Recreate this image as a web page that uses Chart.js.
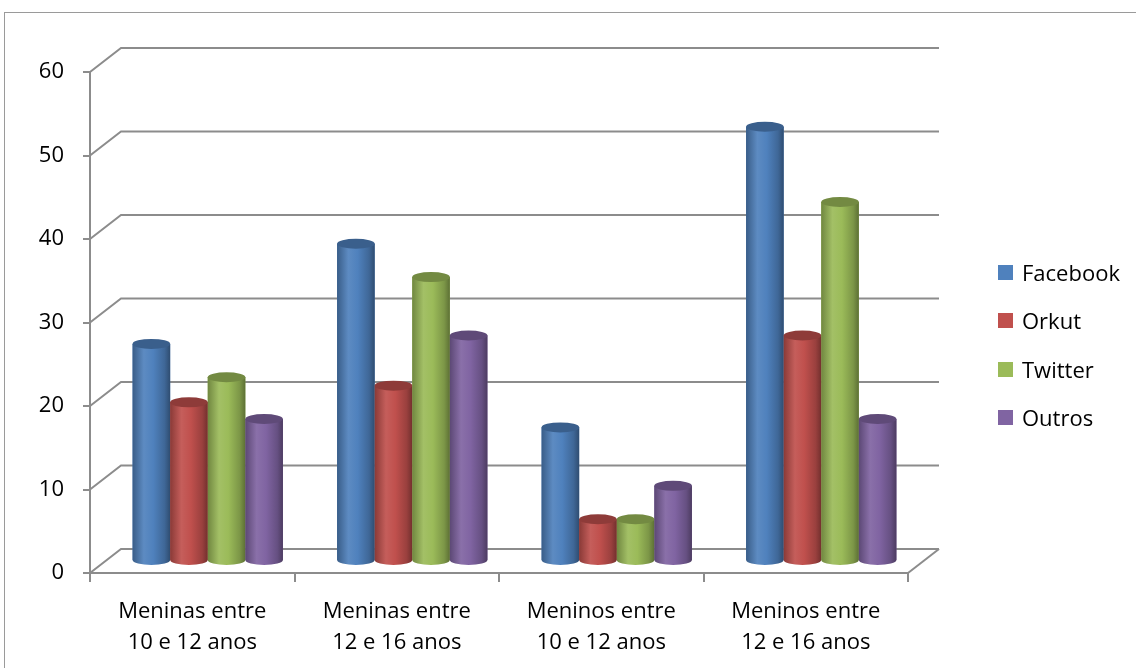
<!DOCTYPE html>
<html>
<head>
<meta charset="utf-8">
<script src="https://cdn.jsdelivr.net/npm/chart.js@4"></script>
<style>
    body { margin: 0; background: #fff; }
    #wrap { position: relative; width: 1136px; height: 668px; }
    #legend { position: absolute; left: 998px; top: 258px; font-family: "Open Sans", "Liberation Sans", sans-serif; font-size: 22px; color: #000; }
    .item { height: 48.3px; display: flex; align-items: flex-start; }
    .box { width: 15px; height: 15px; margin-top: 7px; margin-right: 9px; }
    .txt { line-height: 28px; }
</style>
</head>
<body>
<div id="wrap">
    <canvas id="chart" width="1136" height="668"></canvas>
    <div id="legend"></div>
</div>
<script>

// ============================
// DATA
// ============================

const categories = [
    ["Meninas entre", "10 e 12 anos"],
    ["Meninas entre", "12 e 16 anos"],
    ["Meninos entre", "10 e 12 anos"],
    ["Meninos entre", "12 e 16 anos"]
];

const seriesNames = ["Facebook", "Orkut", "Twitter", "Outros"];

const facebook = [26, 38, 16, 52];
const orkut = [19, 21, 5, 27];
const twitter = [22, 34, 5, 43];
const outros = [17, 27, 9, 17];

const yTicks = [0, 10, 20, 30, 40, 50, 60];

const colors = ["#4F81BD", "#C0504D", "#9BBB59", "#8064A2"];

// 3D look offsets
const depthX = 31;
const depthY = -24;
const gridColor = "#8c8c8c";
const fontFamily = "'Open Sans', 'Liberation Sans', sans-serif";

function shade(hex, f) {
    const n = parseInt(hex.slice(1), 16);
    let r = (n >> 16) & 255, g = (n >> 8) & 255, b = n & 255;
    const c = v => Math.max(0, Math.min(255, Math.round(f >= 1 ? v + (255 - v) * (f - 1) : v * f)));
    return "rgb(" + c(r) + "," + c(g) + "," + c(b) + ")";
}

// ============================
// PLUGINS
// ============================

const frame = {
    id: "frame",
    beforeDraw(chart) {
        const ctx = chart.ctx;
        ctx.save();
        ctx.strokeStyle = "#9a9a9a";
        ctx.lineWidth = 1;
        ctx.strokeRect(4.5, 12.5, 1200, 700);
        ctx.restore();
    }
};

const backWall = {
    id: "backWall",
    beforeDatasetsDraw(chart) {
        const ctx = chart.ctx;
        const area = chart.chartArea;
        const y = chart.scales.y;

        ctx.save();
        ctx.strokeStyle = gridColor;
        ctx.lineWidth = 2;

        yTicks.forEach(v => {
            const py = y.getPixelForValue(v);
            ctx.beginPath();
            ctx.moveTo(area.left, py);
            ctx.lineTo(area.left + depthX, py + depthY);
            ctx.lineTo(area.right + depthX, py + depthY);
            ctx.stroke();
        });

        // floor right edge
        ctx.beginPath();
        ctx.moveTo(area.right, area.bottom);
        ctx.lineTo(area.right + depthX, area.bottom + depthY);
        ctx.stroke();

        ctx.restore();

        // bars sit at mid depth
        ctx.save();
        ctx.translate(depthX / 2, depthY / 2);
    },
    afterDatasetsDraw(chart) {
        const ctx = chart.ctx;

        chart.data.datasets.forEach((ds, di) => {
            const meta = chart.getDatasetMeta(di);
            const base = colors[di];

            meta.data.forEach(bar => {
                const w = bar.width;
                const left = bar.x - w / 2;
                const ry = 5;

                const grad = ctx.createLinearGradient(left, 0, left + w, 0);
                grad.addColorStop(0, shade(base, 0.72));
                grad.addColorStop(0.3, shade(base, 1.08));
                grad.addColorStop(0.55, shade(base, 1.0));
                grad.addColorStop(0.85, shade(base, 0.8));
                grad.addColorStop(1, shade(base, 0.6));

                ctx.fillStyle = grad;
                ctx.fillRect(left, bar.y, w, bar.base - bar.y);

                // bottom rounded edge
                ctx.beginPath();
                ctx.ellipse(bar.x, bar.base, w / 2, ry, 0, 0, Math.PI);
                ctx.fill();

                // top cap
                ctx.beginPath();
                ctx.ellipse(bar.x, bar.y, w / 2, ry, 0, 0, Math.PI * 2);
                ctx.fillStyle = shade(base, 0.74);
                ctx.fill();
            });
        });

        ctx.restore();
    }
};

// ============================
// CHART
// ============================

const seriesData = [facebook, orkut, twitter, outros];

new Chart(document.getElementById("chart"), {

    type: "bar",

    data: {
        labels: categories,
        datasets: seriesNames.map((name, i) => ({
            label: name,
            data: seriesData[i],
            backgroundColor: colors[i],
            borderWidth: 0,
            categoryPercentage: 0.735,
            barPercentage: 1,
            clip: false
        }))
    },

    options: {

        responsive: false,
        animation: false,

        layout: {
            padding: { left: 30, right: 228, top: 72, bottom: 0 }
        },

        plugins: {
            legend: { display: false },
            tooltip: { enabled: false }
        },

        scales: {

            x: {
                afterFit(scale) { scale.height = 95; },
                grid: {
                    display: true,
                    drawOnChartArea: false,
                    tickLength: 9,
                    color: gridColor,
                    lineWidth: 2
                },
                border: { display: true, color: gridColor, width: 2 },
                ticks: {
                    color: "#000",
                    padding: 15,
                    maxRotation: 0,
                    font: { family: fontFamily, size: 22, lineHeight: 1.38 }
                }
            },

            y: {
                min: 0,
                max: 60,
                afterFit(scale) { scale.width = 60; },
                afterBuildTicks(scale) { scale.ticks = yTicks.map(v => ({ value: v })); },
                grid: {
                    display: true,
                    drawOnChartArea: false,
                    tickLength: 7,
                    color: gridColor,
                    lineWidth: 2
                },
                border: { display: true, color: gridColor, width: 2 },
                ticks: {
                    color: "#000",
                    padding: 19,
                    font: { family: fontFamily, size: 22 }
                }
            }

        }

    },

    plugins: [frame, backWall]

});

// ============================
// LEGEND
// ============================

const legend = document.getElementById("legend");

seriesNames.forEach((name, i) => {
    legend.innerHTML += `
        <div class="item">
            <div class="box" style="background:${colors[i]}"></div>
            <div class="txt">${name}</div>
        </div>
    `;
});

</script>
</body>
</html>
